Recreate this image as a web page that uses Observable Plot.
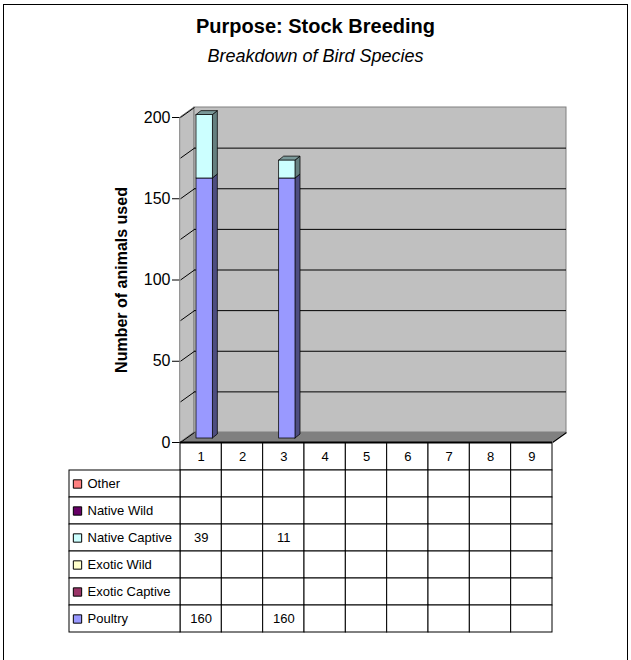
<!DOCTYPE html>
<html><head><meta charset="utf-8">
<script src="https://cdn.jsdelivr.net/npm/d3@7"></script>
<script src="https://cdn.jsdelivr.net/npm/@observablehq/plot@0.6"></script>
<style>
html,body{margin:0;padding:0;background:#fff;overflow:hidden;}
body{width:631px;height:660px;position:relative;font-family:Arial,"Liberation Sans",sans-serif;}
#frame{position:absolute;left:3px;top:4px;width:625px;height:700px;border:1px solid #000;box-sizing:border-box;}
#title{position:absolute;left:0;width:631px;top:16px;text-align:center;font-weight:bold;font-size:20px;line-height:20px;}
#subtitle{position:absolute;left:0;width:631px;top:47px;text-align:center;font-style:italic;font-size:18px;line-height:18px;}
#chart{position:absolute;left:0;top:70px;}
#table{position:absolute;left:0;top:441px;}
</style></head>
<body>
<div id="frame"></div>
<div id="title"></div>
<div id="subtitle"></div>
<div id="chart"></div>
<div id="table"></div>
<script>
// ---- data ----
const titleText = "Purpose: Stock Breeding";
const subtitleText = "Breakdown of Bird Species";
const yTitle = "Number of animals used";
const categories = [1, 2, 3, 4, 5, 6, 7, 8, 9];
const seriesNames = ["Poultry", "Exotic Captive", "Exotic Wild", "Native Captive", "Native Wild", "Other"]; // stacking order (bottom→top)
const poultry       = [160, null, 160, null, null, null, null, null, null];
const exoticCaptive = [null, null, null, null, null, null, null, null, null];
const exoticWild    = [null, null, null, null, null, null, null, null, null];
const nativeCaptive = [39, null, 11, null, null, null, null, null, null];
const nativeWild    = [null, null, null, null, null, null, null, null, null];
const other         = [null, null, null, null, null, null, null, null, null];
const yTicks = [0, 50, 100, 150, 200];
const gridValues = [25, 50, 75, 100, 125, 150, 175, 200];

// ---- styles ----
const seriesColors = {
  "Poultry": "#9999ff", "Exotic Captive": "#993366", "Exotic Wild": "#ffffcc",
  "Native Captive": "#ccffff", "Native Wild": "#660066", "Other": "#ff8080"
};
const shade = (c, k) => { const r = d3.rgb(c); return d3.rgb(r.r * k, r.g * k, r.b * k).formatHex(); };
const font = 'Arial, "Liberation Sans", sans-serif';

document.getElementById("title").textContent = titleText;
document.getElementById("subtitle").textContent = subtitleText;

const valuesBySeries = {
  "Poultry": poultry, "Exotic Captive": exoticCaptive, "Exotic Wild": exoticWild,
  "Native Captive": nativeCaptive, "Native Wild": nativeWild, "Other": other
};

// geometry (pixels → data units)
const xMin = 0.5, xMax = categories.length + 0.5;
const yMax = d3.max(yTicks);
const frontLeft = 180, frontRight = 552;
const colPx = (frontRight - frontLeft) / categories.length;
const chartTop = 47, chartBottom = 372, chartH = 374;
const unitPx = (chartBottom - chartTop) / yMax;
const wallDX = 14 / colPx, wallDY = 10 / unitPx;
const barInL = 16 / colPx, barInR = 9 / colPx;
const barDX = 5 / colPx, barDY = 4 / unitPx;
const barLift = -4;

// stacked segments
const segments = [];
categories.forEach((c, i) => {
  let cum = 0;
  seriesNames.forEach(s => {
    const v = valuesBySeries[s][i];
    if (v) { segments.push({cat: c, series: s, y1: cum, y2: cum + v, id: c + "-" + s}); cum += v; }
  });
});
const topSegs = categories.map(c => segments.filter(d => d.cat === c).pop()).filter(Boolean);

const sidePts = segments.flatMap(d => {
  const xr = d.cat + 0.5 - barInR;
  return [
    {id: d.id, series: d.series, x: xr, y1: d.y1, y2: d.y2},
    {id: d.id, series: d.series, x: xr + barDX, y1: d.y1 + barDY, y2: d.y2 + barDY}
  ];
});
const topPts = topSegs.flatMap(d => {
  const xl = d.cat - 0.5 + barInL, xr = d.cat + 0.5 - barInR;
  return [
    {id: d.id, series: d.series, y: d.y2, x1: xl, x2: xr},
    {id: d.id, series: d.series, y: d.y2 + barDY, x1: xl + barDX, x2: xr + barDX}
  ];
});

const chart = Plot.plot({
  width: 631, height: chartH,
  marginLeft: frontLeft, marginRight: 631 - frontRight,
  marginTop: chartTop, marginBottom: chartH - chartBottom,
  x: {domain: [xMin, xMax], axis: null},
  y: {domain: [0, yMax], ticks: yTicks, tickSize: 8, tickPadding: 2, label: null, line: true},
  color: {type: "identity"},
  style: {fontFamily: font, fontSize: "16px", background: "transparent", overflow: "visible", color: "#000"},
  marks: [
    // side wall
    Plot.areaY([{x: xMin, y1: 0, y2: yMax}, {x: xMin + wallDX, y1: wallDY, y2: yMax + wallDY}],
      {x: "x", y1: "y1", y2: "y2", fill: "#c0c0c0", stroke: "#808080", strokeWidth: 1}),
    // back wall
    Plot.rect([0], {x1: () => xMin + wallDX, x2: () => xMax + wallDX, y1: () => wallDY, y2: () => yMax + wallDY,
      fill: "#c0c0c0", stroke: "#808080", strokeWidth: 1}),
    // floor
    Plot.areaX([{y: 0, x1: xMin, x2: xMax}, {y: wallDY, x1: xMin + wallDX, x2: xMax + wallDX}],
      {y: "y", x1: "x1", x2: "x2", fill: "#808080"}),
    // gridlines on back wall
    Plot.ruleY(gridValues.filter(v => v < yMax), {y: d => d + wallDY, x1: () => xMin + wallDX, x2: () => xMax + wallDX, stroke: "#000", strokeWidth: 1}),
    // gridlines on side wall
    Plot.link(gridValues, {x1: () => xMin, y1: d => d, x2: () => xMin + wallDX, y2: d => d + wallDY, stroke: "#000", strokeWidth: 1}),
    // floor edges
    Plot.link([0], {x1: () => xMax, y1: () => 0, x2: () => xMax + wallDX, y2: () => wallDY, stroke: "#000", strokeWidth: 1.5}),
    Plot.link([0], {x1: () => xMin, y1: () => 0, x2: () => xMin + wallDX, y2: () => wallDY, stroke: "#000", strokeWidth: 1}),
    Plot.ruleY([0], {x1: () => xMin, x2: () => xMax, stroke: "#000", strokeWidth: 2}),
    // bars: side faces
    Plot.areaY(sidePts, {x: "x", y1: "y1", y2: "y2", z: "id", fill: d => shade(seriesColors[d.series], 0.5),
      stroke: "#000", strokeWidth: 0.75, dy: barLift}),
    // bars: top faces
    Plot.areaX(topPts, {y: "y", x1: "x1", x2: "x2", z: "id", fill: d => shade(seriesColors[d.series], 0.6),
      stroke: "#000", strokeWidth: 0.75, dy: barLift}),
    // bars: front faces
    Plot.rect(segments, {x1: d => d.cat - 0.5 + barInL, x2: d => d.cat + 0.5 - barInR, y1: "y1", y2: "y2",
      fill: d => seriesColors[d.series], stroke: "#000", strokeWidth: 0.75, dy: barLift}),
    // y title
    Plot.text([yTitle], {frameAnchor: "left", text: d => d, rotate: -90, dx: -59, textAnchor: "middle",
      fontWeight: "bold", fontSize: 16, fill: "#000"})
  ]
});
document.getElementById("chart").appendChild(chart);

// ---- data table ----
const rows = ["header", ...seriesNames.slice().reverse()];
const cellData = [];
rows.forEach(r => categories.forEach((c, i) => {
  cellData.push({row: r, cat: c, value: r === "header" ? null : valuesBySeries[r][i]});
}));
const labelRows = seriesNames.slice().reverse();
const labelLeft = xMin - (frontLeft - 69) / colPx;

const table = Plot.plot({
  width: 631, height: 193,
  marginLeft: frontLeft, marginRight: 631 - frontRight, marginTop: 1, marginBottom: 1,
  x: {domain: [xMin, xMax], axis: null},
  y: {type: "band", domain: rows, padding: 0, axis: null},
  color: {type: "identity"},
  style: {fontFamily: font, fontSize: "13px", background: "transparent", overflow: "visible", color: "#000"},
  marks: [
    Plot.barX(cellData, {x1: d => d.cat - 0.5, x2: d => d.cat + 0.5, y: "row", fill: "#fff", stroke: "#000", strokeWidth: 1}),
    Plot.barX(labelRows, {x1: () => labelLeft, x2: () => xMin, y: d => d, fill: "#fff", stroke: "#000", strokeWidth: 1}),
    Plot.dot(labelRows, {x: () => labelLeft, y: d => d, dx: 8, symbol: "square", r: 4.7, fill: d => seriesColors[d], stroke: "#000", strokeWidth: 1}),
    Plot.text(labelRows, {x: () => labelLeft, y: d => d, dx: 18, text: d => d, textAnchor: "start", fill: "#000"}),
    Plot.text(categories, {x: d => d, y: () => "header", text: d => String(d), fill: "#000"}),
    Plot.text(cellData.filter(d => d.value != null), {x: "cat", y: "row", text: d => String(d.value), fill: "#000"})
  ]
});
document.getElementById("table").appendChild(table);
</script>
</body></html>
